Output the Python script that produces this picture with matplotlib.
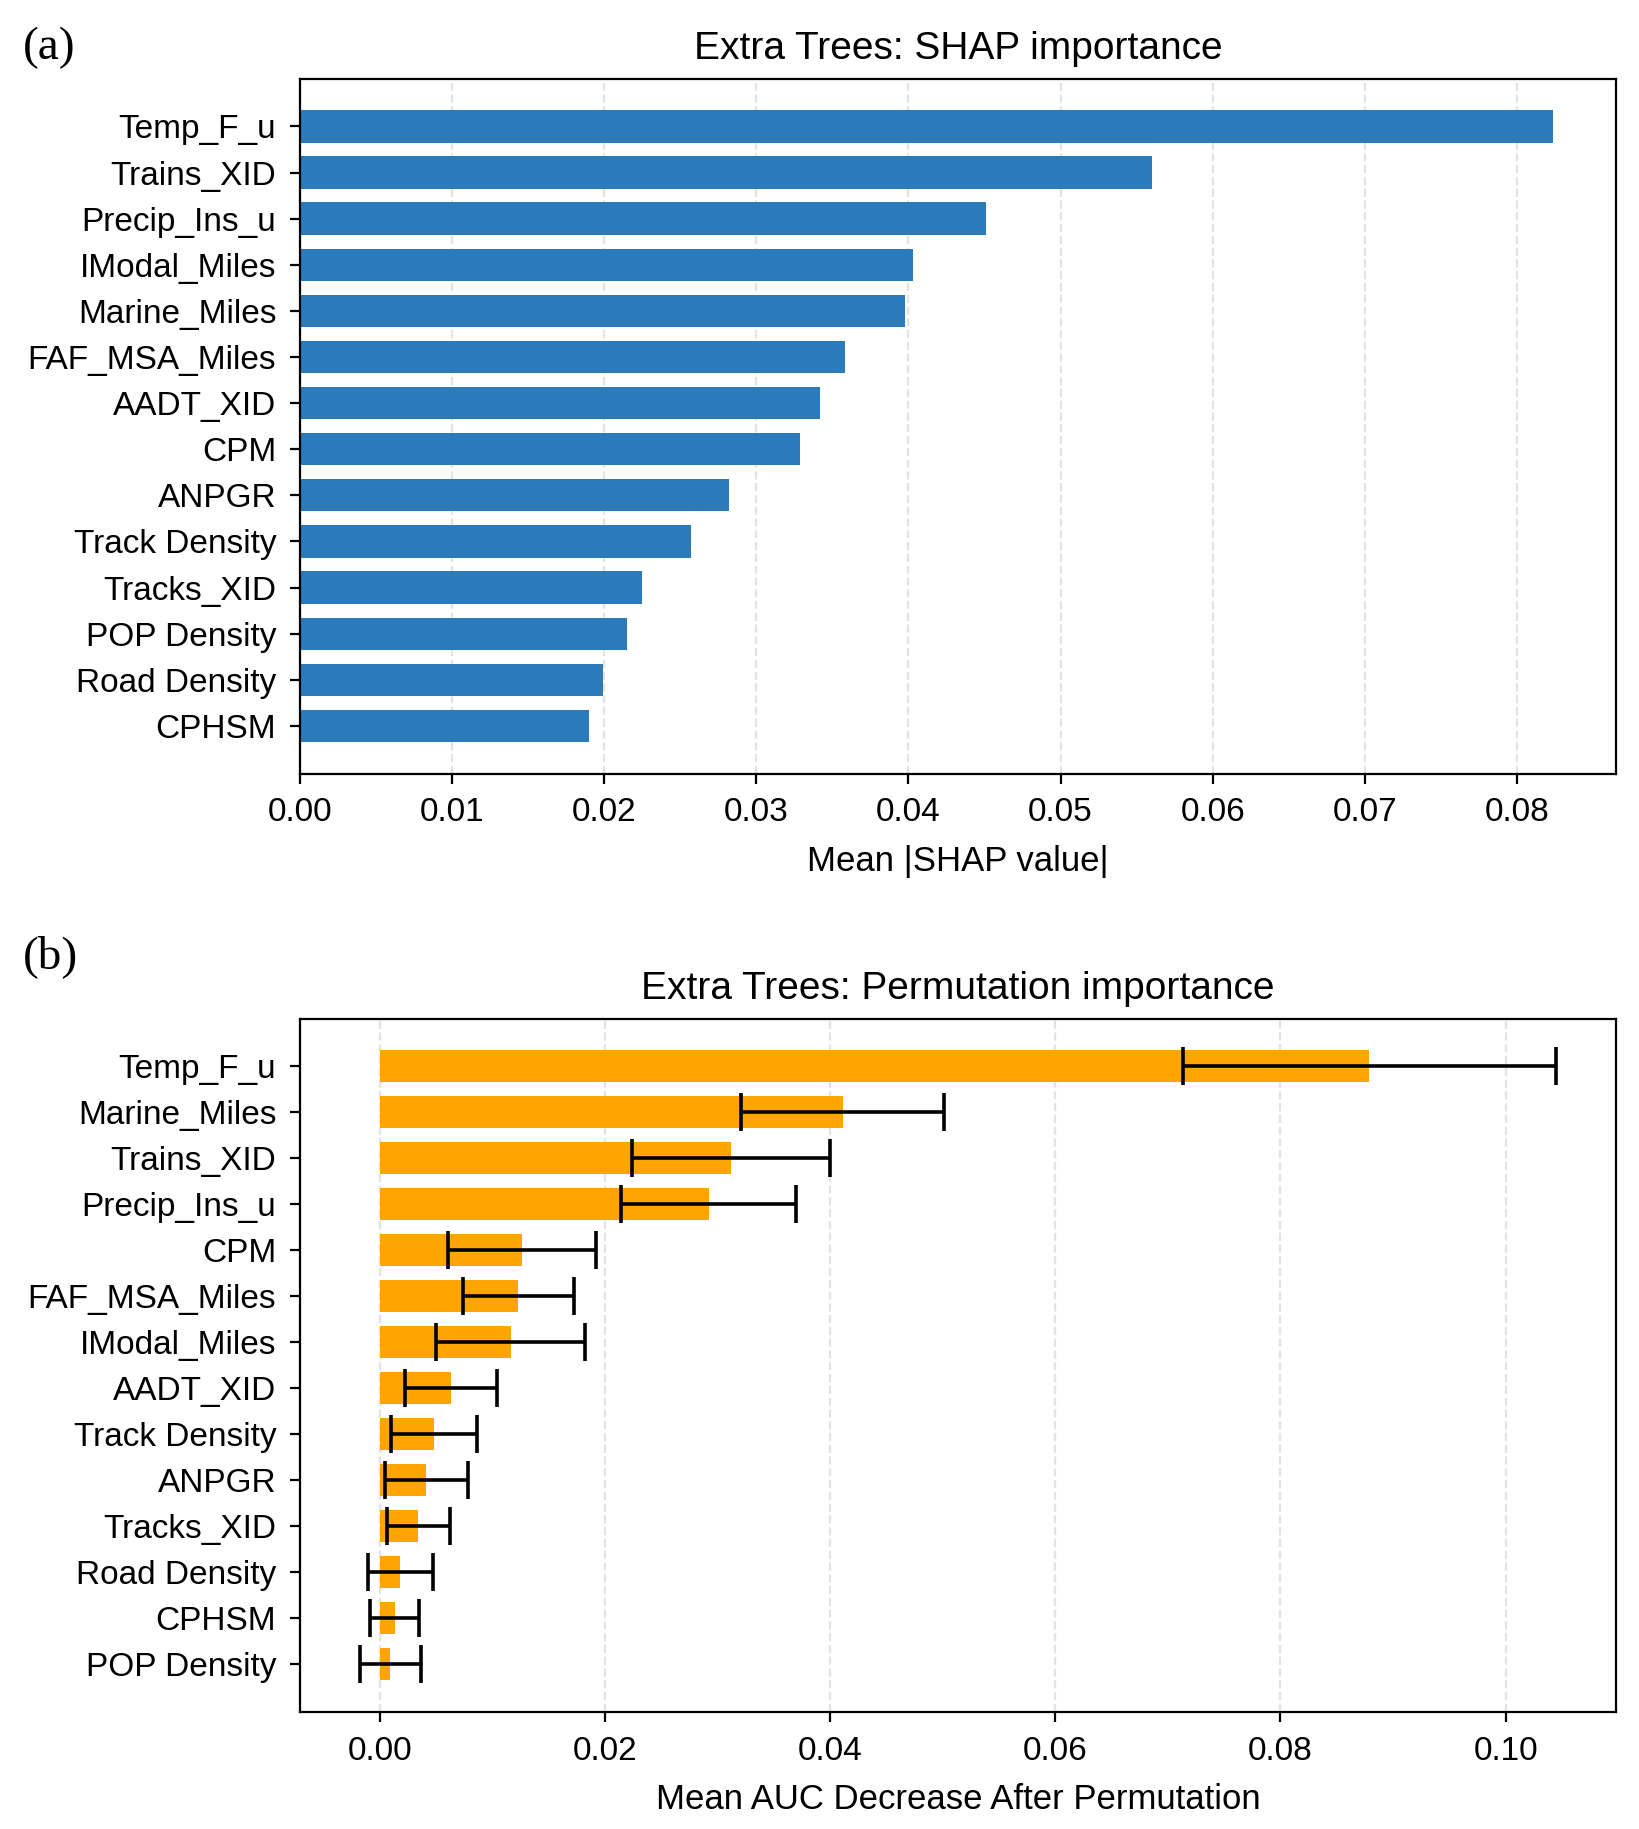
import matplotlib
matplotlib.use("Agg")
import matplotlib.pyplot as plt
import numpy as np

plt.rcParams['font.family'] = ['Liberation Sans', 'DejaVu Sans']

# (a) SHAP importance, top to bottom
shap_names = ['Temp_F_u', 'Trains_XID', 'Precip_Ins_u', 'IModal_Miles', 'Marine_Miles',
              'FAF_MSA_Miles', 'AADT_XID', 'CPM', 'ANPGR', 'Track Density',
              'Tracks_XID', 'POP Density', 'Road Density', 'CPHSM']
shap_vals = [0.0824, 0.0560, 0.0451, 0.0403, 0.0398, 0.0358, 0.0342, 0.0329,
             0.0282, 0.0257, 0.0225, 0.0215, 0.0199, 0.0190]

# (b) permutation importance, top to bottom
perm_names = ['Temp_F_u', 'Marine_Miles', 'Trains_XID', 'Precip_Ins_u', 'CPM',
              'FAF_MSA_Miles', 'IModal_Miles', 'AADT_XID', 'Track Density', 'ANPGR',
              'Tracks_XID', 'Road Density', 'CPHSM', 'POP Density']
perm_vals = [0.0879, 0.0411, 0.0312, 0.0292, 0.0126, 0.0123, 0.0116, 0.0063,
             0.0048, 0.0041, 0.0034, 0.0018, 0.0013, 0.0009]
perm_err = [0.0166, 0.0090, 0.0088, 0.0078, 0.0066, 0.0049, 0.0066, 0.0041,
            0.0038, 0.0037, 0.0028, 0.0029, 0.0022, 0.0027]

fig = plt.figure(figsize=(8.195, 9.145), dpi=200)
ax1 = fig.add_axes([0.183, 0.577, 0.803, 0.380])
ax2 = fig.add_axes([0.183, 0.064, 0.803, 0.379])

# top panel
ax1.barh(shap_names, shap_vals, height=0.7, color='#2b7bba')
ax1.invert_yaxis()
ax1.set_title('Extra Trees: SHAP importance', fontsize=14, pad=7)
ax1.set_xlabel('Mean |SHAP value|', fontsize=12.5, labelpad=6)
ax1.set_xticks(np.arange(0, 0.081, 0.01))
ax1.grid(axis='x', linestyle='--', alpha=0.35)
ax1.set_axisbelow(True)

# bottom panel
ax2.barh(perm_names, perm_vals, height=0.7, color='orange',
         xerr=perm_err, error_kw=dict(ecolor='black', elinewidth=1.3, capsize=7, capthick=1.3))
ax2.invert_yaxis()
ax2.set_title('Extra Trees: Permutation importance', fontsize=14, pad=7)
ax2.set_xlabel('Mean AUC Decrease After Permutation', fontsize=12.5, labelpad=6)
ax2.set_xticks(np.arange(0, 0.101, 0.02))
ax2.grid(axis='x', linestyle='--', alpha=0.35)
ax2.set_axisbelow(True)

for ax in (ax1, ax2):
    ax.tick_params(axis='both', labelsize=12)
    ax.tick_params(axis='y', pad=5)
    ax.tick_params(axis='x', pad=5)

fig.text(0.014, 0.974, '(a)', fontsize=17, family=['Liberation Serif', 'DejaVu Serif'], va='center')
fig.text(0.014, 0.477, '(b)', fontsize=17, family=['Liberation Serif', 'DejaVu Serif'], va='center')

fig.savefig('out.png', dpi=200)
